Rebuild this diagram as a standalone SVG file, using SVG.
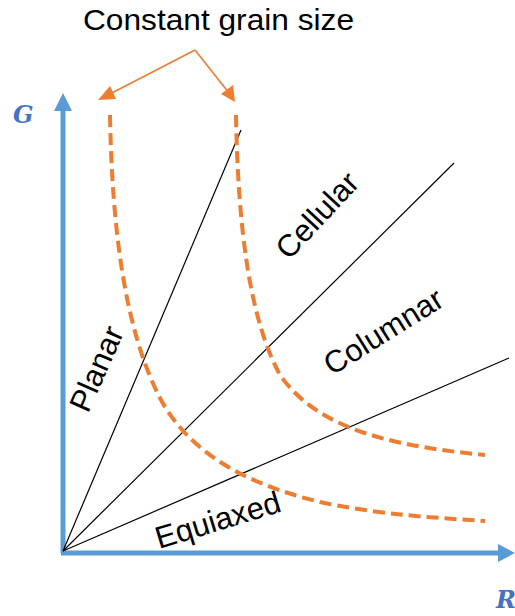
<svg xmlns="http://www.w3.org/2000/svg" width="515" height="616" viewBox="0 0 515 616">
<style>
.lbl{font-family:"Liberation Sans",Arial,sans-serif;font-size:31px;fill:#000}
.ttl{font-family:"Liberation Sans",Arial,sans-serif;font-size:29px;fill:#000}
.ax{font-family:"DejaVu Serif","Liberation Serif",serif;font-style:italic;font-weight:bold;font-size:24px;fill:#4472C4}
.axis{stroke:#5B9BD5;stroke-width:5;fill:none}
.axhead{fill:#5B9BD5}
.bound{stroke:#000;stroke-width:1.2;fill:none}
.iso{stroke:#ED7D31;stroke-width:4;fill:none;stroke-dasharray:12 6}
.ptr{stroke:#ED7D31;stroke-width:1.6;fill:none}
.ptrhead{fill:#ED7D31}
</style>
<rect width="515" height="616" fill="#fff"/>
<g id="connectors">
  <path class="axis" d="M63,553 V108"/>
  <polygon class="axhead" points="63,93 54,111 72,111"/>
  <path class="axis" d="M61,553 H500"/>
  <polygon class="axhead" points="515,553 498,544 498,562"/>
  <line class="bound" x1="63" y1="551" x2="241" y2="130"/>
  <line class="bound" x1="63" y1="551" x2="454" y2="163"/>
  <line class="bound" x1="63" y1="551" x2="509" y2="358"/>
  <path class="iso" d="M110,115 C112,230 125,330 160,398 C190,455 250,485 320,502 C380,515 440,518 485,521"/>
  <path class="iso" d="M236,115 C238,230 250,320 280,375 C315,425 380,445 485,455"/>
  <path class="ptr" d="M195,50 L108,95 M195,50 L229,93"/>
  <polygon class="ptrhead" points="98,100 110,86 116,99"/>
  <polygon class="ptrhead" points="235,102 221,94 233,85"/>
</g>
<g id="title"><text class="ttl" x="83" y="30" textLength="271" lengthAdjust="spacingAndGlyphs">Constant grain size</text></g>
<g id="axis-G"><text class="ax" x="13" y="123">G</text></g>
<g id="axis-R"><text class="ax" x="496" y="608">R</text></g>
<g id="planar"><text class="lbl" transform="translate(88,414) rotate(-66)">Planar</text></g>
<g id="cellular"><text class="lbl" transform="translate(289,261) rotate(-47)">Cellular</text></g>
<g id="columnar"><text class="lbl" transform="translate(332,376) rotate(-32)">Columnar</text></g>
<g id="equiaxed"><text class="lbl" transform="translate(159,549) rotate(-17)">Equiaxed</text></g>
</svg>
